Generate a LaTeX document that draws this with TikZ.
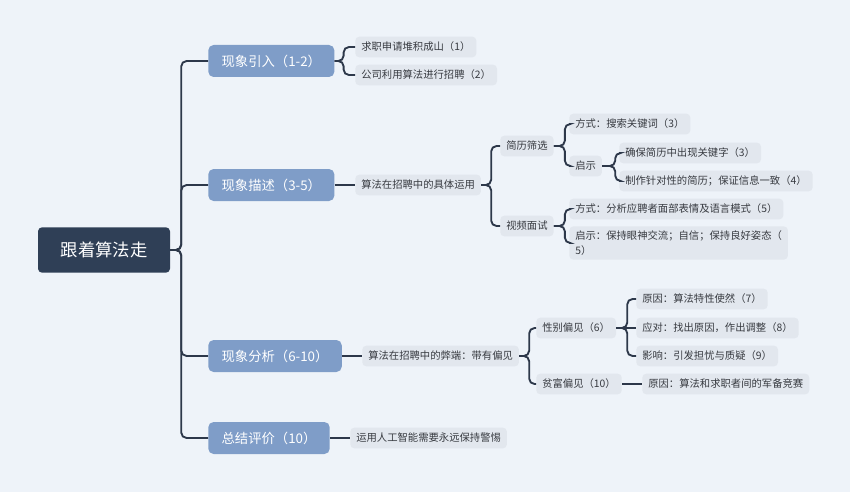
\documentclass[tikz,border=0pt]{standalone}
\usepackage{fontspec}
\newfontfamily\cjk{Noto Sans CJK SC}
\usetikzlibrary{positioning}
\definecolor{bgc}{RGB}{238,243,249}
\definecolor{rootc}{RGB}{47,63,86}
\definecolor{topicc}{RGB}{127,157,200}
\definecolor{leafc}{RGB}{226,231,238}
\definecolor{linec}{RGB}{45,56,74}
\definecolor{inkc}{RGB}{55,58,64}
\tikzset{root/.style={fill=rootc,text=white,rounded corners=3pt,minimum width=99pt,minimum height=34pt,font=\cjk\fontsize{13}{15}\selectfont},
topic/.style={anchor=west,fill=topicc,text=white,rounded corners=4pt,inner xsep=10pt,inner ysep=0pt,minimum height=24pt,font=\cjk\fontsize{10}{12}\selectfont},
leaf/.style={anchor=west,fill=leafc,text=inkc,rounded corners=3pt,inner xsep=4.5pt,inner ysep=0pt,minimum height=15.5pt,font=\cjk\fontsize{7.75}{11.5}\selectfont},
link/.style={draw=linec,line width=1.4pt,rounded corners=4pt}}

\begin{document}
\begin{tikzpicture}[x=0.75pt,y=-0.75pt]
	\fill[bgc] (0,0) rectangle (850,492);
	\node[root] (r) at (104,250) {跟着算法走};
	% main topics
	\foreach \n/\y/\t in {a1/61/现象引入（1-2）,a2/185/现象描述（3-5）,a3/356/现象分析（6-10）,a4/438/总结评价（10）}
		\node[topic] (\n) at (208,\y) {\t};
	% second level
	\node[leaf] (b11) at (355,47) {求职申请堆积成山（1）};
	\node[leaf] (b12) at (355,75) {公司利用算法进行招聘（2）};
	\node[leaf] (b2) at (355,185) {算法在招聘中的具体运用};
	\node[leaf] (b3) at (362,356) {算法在招聘中的弊端：带有偏见};
	\node[leaf] (b4) at (350,438) {运用人工智能需要永远保持警惕};
	% third level
	\node[leaf] (c21) at (500,146) {简历筛选};
	\node[leaf] (c22) at (500,226) {视频面试};
	\node[leaf] (c31) at (536,328) {性别偏见（6）};
	\node[leaf] (c32) at (536,384) {贫富偏见（10）};
	% fourth level
	\node[leaf] (d211) at (569,124) {方式：搜索关键词（3）};
	\node[leaf] (d212) at (569,166) {启示};
	\node[leaf] (d221) at (569,209) {方式：分析应聘者面部表情及语言模式（5）};
	\node[leaf,align=left,inner ysep=3pt] (d222) at (569,243) {启示：保持眼神交流；自信；保持良好姿态（\\5）};
	\node[leaf] (d311) at (636,299) {原因：算法特性使然（7）};
	\node[leaf] (d312) at (636,328) {应对：找出原因，作出调整（8）};
	\node[leaf] (d313) at (636,356) {影响：引发担忧与质疑（9）};
	\node[leaf] (d321) at (642,384) {原因：算法和求职者间的军备竞赛};
	\node[leaf] (e1) at (619,153) {确保简历中出现关键字（3）};
	\node[leaf] (e2) at (619,181) {制作针对性的简历；保证信息一致（4）};
	% connectors
	\foreach \p/\c/\d in {r/a1/11,r/a2/11,r/a3/11,r/a4/11,a1/b11/9,a1/b12/9,
		b2/c21/10,b2/c22/10,b3/c31/10,b3/c32/10,c21/d211/11,c21/d212/11,c22/d221/11,c22/d222/11,
		d212/e1/13,d212/e2/13,c31/d311/11,c31/d313/11}
		\draw[link] (\p.east) -- ++(\d,0) |- (\c.west);
	\foreach \p/\c in {a2/b2,a3/b3,a4/b4,c31/d312,c32/d321}
		\draw[link] (\p.east) -- (\c.west);
\end{tikzpicture}
\end{document}
